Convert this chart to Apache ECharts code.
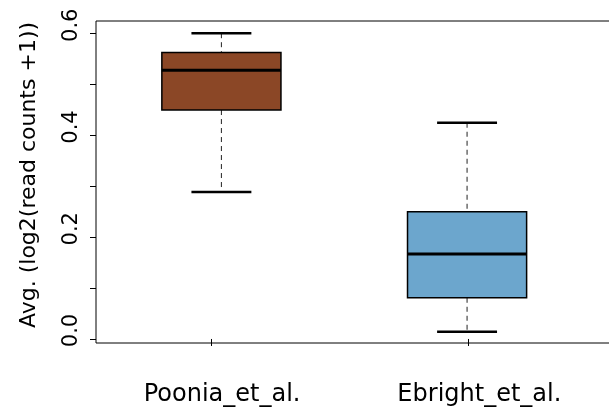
<!DOCTYPE html>
<html>
<head>
<meta charset="utf-8">
<script src="https://cdn.jsdelivr.net/npm/echarts@6/dist/echarts.min.js"></script>
<style>
  html, body { margin: 0; padding: 0; background: #ffffff; }
  #chart { width: 609px; height: 412px; }
</style>
</head>
<body>
<div id="chart"></div>
<script>
// ---- data ----
const categories = ['Poonia_et_al.', 'Ebright_et_al.'];
const tickPositions = [1, 2];
const boxPositions = [1.04, 1.995];
const whiskerLow  = [0.289, 0.014];
const q1          = [0.450, 0.081];
const medians     = [0.528, 0.167];
const q3          = [0.563, 0.250];
const whiskerHigh = [0.601, 0.425];
const yTickValues  = [0, 0.1, 0.2, 0.3, 0.4, 0.5, 0.6];
const yLabelValues = [0, 0.2, 0.4, 0.6];
const fills = ['#8B4726', '#6CA6CD'];

const FONT = 'DejaVu Sans';
const BOX_W = 0.463;
const CAP_W = 0.233;

const boxData = categories.map((c, i) => ({
  value: [boxPositions[i], whiskerLow[i], q1[i], medians[i], q3[i], whiskerHigh[i]],
  itemStyle: { color: fills[i] }
}));

function renderBox(params, api) {
  const x = api.value(0);
  const lo = api.coord([x, api.value(1)]);
  const b1 = api.coord([x, api.value(2)]);
  const md = api.coord([x, api.value(3)]);
  const b3 = api.coord([x, api.value(4)]);
  const hi = api.coord([x, api.value(5)]);
  const bw = api.size([BOX_W, 0])[0];
  const cw = api.size([CAP_W, 0])[0];
  const cx = lo[0];
  const fill = api.visual('color');
  return {
    type: 'group',
    children: [
      { type: 'line', shape: { x1: cx, y1: hi[1], x2: cx, y2: b3[1] },
        style: { stroke: '#222', lineWidth: 1, lineDash: [5, 4] } },
      { type: 'line', shape: { x1: cx, y1: b1[1], x2: cx, y2: lo[1] },
        style: { stroke: '#222', lineWidth: 1, lineDash: [5, 4] } },
      { type: 'line', shape: { x1: cx - cw / 2, y1: hi[1], x2: cx + cw / 2, y2: hi[1] },
        style: { stroke: '#000', lineWidth: 2.5 } },
      { type: 'line', shape: { x1: cx - cw / 2, y1: lo[1], x2: cx + cw / 2, y2: lo[1] },
        style: { stroke: '#000', lineWidth: 2.5 } },
      { type: 'rect', shape: { x: cx - bw / 2, y: b3[1], width: bw, height: b1[1] - b3[1] },
        style: { fill: fill, stroke: '#000', lineWidth: 1.5 } },
      { type: 'line', shape: { x1: cx - bw / 2, y1: md[1], x2: cx + bw / 2, y2: md[1] },
        style: { stroke: '#000', lineWidth: 3 } }
    ]
  };
}

const chart = echarts.init(document.getElementById('chart'), null, { renderer: 'canvas' });
chart.setOption({
  animation: false,
  backgroundColor: '#ffffff',
  grid: {
    left: 96, top: 21, right: -60, bottom: 69,
    containLabel: false,
    outerBoundsMode: 'none',
    show: true, borderColor: '#000', borderWidth: 1, backgroundColor: 'transparent'
  },
  xAxis: {
    type: 'value',
    min: 0.5525,
    max: 2.78,
    splitLine: { show: false },
    axisLine: { show: false },
    axisTick: { show: true, customValues: tickPositions, length: 7, lineStyle: { color: '#000', width: 1 } },
    axisLabel: {
      show: true,
      customValues: tickPositions,
      formatter: (v) => categories[tickPositions.indexOf(v)] || '',
      fontFamily: FONT, fontSize: 24, color: '#000',
      margin: 40,
      padding: [0, 0, 0, 22]
    }
  },
  yAxis: {
    type: 'value',
    min: -0.0079,
    max: 0.625,
    splitLine: { show: false },
    axisLine: { show: false },
    axisTick: { show: true, customValues: yTickValues, length: 6, lineStyle: { color: '#000', width: 1 } },
    axisLabel: {
      show: true,
      customValues: yLabelValues,
      rotate: 90,
      formatter: (v) => v.toFixed(1),
      fontFamily: FONT, fontSize: 21, color: '#000',
      margin: 14,
      padding: [0, 0, 0, 17]
    },
    name: 'Avg. (log2(read counts +1))',
    nameLocation: 'middle',
    nameGap: 56,
    nameRotate: 90,
    nameTextStyle: { fontFamily: FONT, fontSize: 22, color: '#000', padding: [0, 0, 0, 14] }
  },
  series: [{
    type: 'custom',
    renderItem: renderBox,
    encode: { x: 0, y: [1, 2, 3, 4, 5] },
    data: boxData,
    clip: false
  }]
});
</script>
</body>
</html>
